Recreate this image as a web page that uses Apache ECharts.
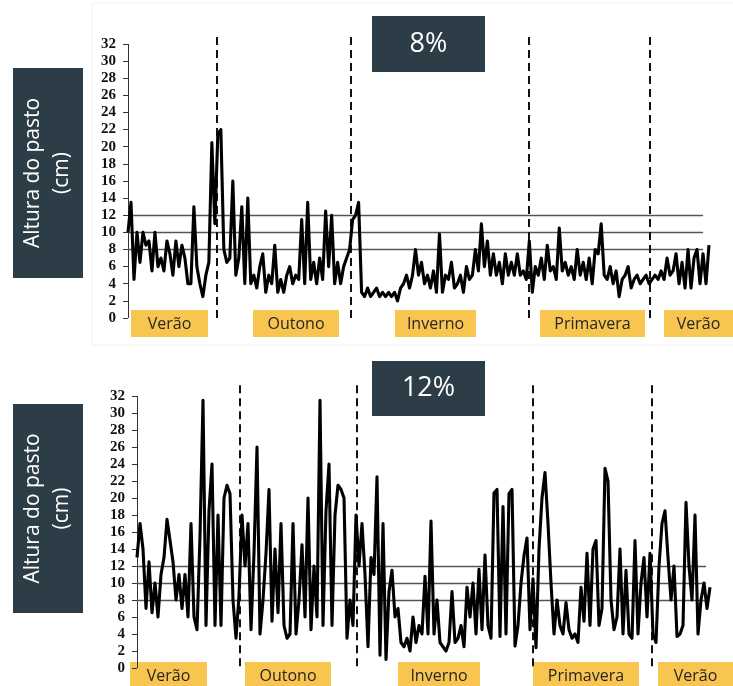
<!DOCTYPE html>
<html><head><meta charset="utf-8">
<script src="https://cdn.jsdelivr.net/npm/echarts@6/dist/echarts.min.js"></script>
<style>html,body{margin:0;padding:0;background:#fff}#c{width:733px;height:686px}</style>
</head><body><div id="c"></div>
<script>
// Pasture height (cm), 8% panel, sampled along the year
const height8 = [10,13.5,4.5,10,6.5,10,8.5,9,5.5,10, 6,7,5.5,9,7.5,5,9,6,8.5,7,
  4,4,13,6,4,2.5,5,6.5,20.5,11, 21.5,22,8,6.5,7,16,5,7,13,4,
  14,4,5,3.5,6,7.5,3,5,4,8.5, 3,4.5,3,5,6,4,5,4.5,11.5,4,
  13.5,4.5,6.5,4,7,4.5,12.5,6,12,4, 6.5,4,6,7,8,11.5,12,13.5,3,2.5,
  3.5,2.5,3,3.5,2.5,3,2.5,3,2.5,3, 2,3.5,4,5,3.5,5,8,5,6.5,4,
  5,3.5,5.5,3,9.8,3,5,4.5,6.5,3.5, 4,5,3,6,4.5,5,8,5.5,11,6,
  9,5,7.5,5,6.5,4,7.5,5,6.5,5, 7.5,5,5.5,4.5,9,3,6,5,7,4.5,
  8.5,5.5,6,4.5,10.5,5.5,6.5,5,6,4.5, 8,5,6.5,4.5,7,4,8,7.5,11,5,
  4.5,6,4,5.5,2.5,4.5,5,6,3.5,4.5, 5,4,4.5,5,4,4.5,5,4.5,5.5,4.5,
  7,5,5.5,7.5,4,6.5,3.5,8,3.5,7, 8,4,7.5,4,8.5];
// Pasture height (cm), 12% panel
const height12 = [13,17,14,7,12.5,6.5,10,6,11,13, 17.5,15,12.5,8,11,7,11,6,17,6,
  4.5,15.5,31.5,5,18.5,24,5,18,5,20, 21.5,20.5,8,3.5,8.5,18,12,17,4.5,13.5,
  26,4,8,13.5,21,5.5,14,6.5,17,5, 3.5,4,17,4,8,14.5,6,20,4.5,12,
  6,31.5,5,18.5,24,5,18,21.5,21,20, 3.5,8,5,18,12,17,11,2.5,13,11,
  22.5,1.5,17,1,9,11.5,6,7,3,2.5, 3.5,2,6,3,5,4,10.8,4,17.3,4,
  8,3,2.5,2,3,9,3,3.5,5,2.5, 9.5,6,10,4,11.6,4.5,13.3,5,3.5,20.6,
  21,3.7,19,4,20.5,21,2.6,5,10,13.2, 15.3,4.5,10.5,2.4,14,20,23,17,10,4,
  8,5,4,7.7,4.5,3.5,4,3,9.5,5.5, 13.5,5,14,15,5,7,23.5,22,8,4.5,
  6,14,4,11.5,4,3.5,15,4,10,13, 6,13.5,4,3,12,17,18.5,13,8,12,
  3.7,4,5,19.5,12,8,18,4,8,10, 7,9.5];
const seasons = ['Verão','Outono','Inverno','Primavera','Verão'];
// season changes, in sample index
const boundaries8 = [29.7, 74.5, 133.9, 174.3];
const boundaries12 = [34.3, 73.3, 132, 171.7];
const refLevels = [8, 10, 12];
const yTicks = [0,2,4,6,8,10,12,14,16,18,20,22,24,26,28,30,32];
const panelTitles = ['8%', '12%'];
const yAxisTitle = 'Altura do pasto\n(cm)';

const panels = [
  {data: height8, bounds: boundaries8, title: panelTitles[0],
   grid: {left: 128, top: 32, width: 581, height: 286}, yMax: 33.4, refEnd: 192, dashBottom: 0,
   boxes: [[131,208],[253,339],[395,476],[540,645],[664,745]], boxY: 310, boxH: 27,
   labelBox: [13, 68, 70, 210], titleBox: [372, 16, 113, 56], frame: true},
  {data: height12, bounds: boundaries12, title: panelTitles[1],
   grid: {left: 137, top: 383, width: 573, height: 285}, yMax: 33.53, refEnd: 189.7, dashBottom: 0.2,
   boxes: [[130,207],[245,331],[398,480],[533,639],[658,745]], boxY: 662, boxH: 27,
   labelBox: [13, 404, 70, 209], titleBox: [372, 361, 113, 55], frame: false}
];

const DARK = '#2c3d48', YEL = '#F8C550';
const grids = [], xAxes = [], yAxes = [], series = [], graphics = [];

panels.forEach((p, k) => {
  if (p.frame) graphics.push({type: 'rect', z: -10, shape: {x: 92, y: 3, width: 660, height: 342},
    style: {fill: 'none', stroke: '#f1f1f1', lineWidth: 1}});
  grids.push(Object.assign({}, p.grid));
  xAxes.push({type: 'value', gridIndex: k, min: 0, max: p.data.length - 1, show: false});
  yAxes.push({type: 'value', gridIndex: k, min: 0, max: p.yMax,
    axisLine: {show: false},
    axisTick: {show: true, length: 5, customValues: yTicks, lineStyle: {color: '#333'}},
    axisLabel: {fontFamily: 'Liberation Serif', fontSize: 15, fontWeight: 'bold', color: '#111', margin: 12, customValues: yTicks},
    splitLine: {show: false}});
  const ml = [];
  ml.push([{coord: [0, 0], lineStyle: {color: '#333', width: 1, type: 'solid'}}, {coord: [0, 32]}]);
  refLevels.forEach(v => ml.push([{coord: [0, v], lineStyle: {color: '#555', width: 1.4, type: 'solid'}}, {coord: [p.refEnd, v]}]));
  p.bounds.forEach(b => ml.push([{coord: [b, p.dashBottom], lineStyle: {color: '#111', width: 2, type: [8, 5]}}, {coord: [b, p.yMax]}]));
  series.push({type: 'line', xAxisIndex: k, yAxisIndex: k, z: 3, animation: false,
    data: p.data.map((v, i) => [i, v]), showSymbol: false, symbol: 'none',
    lineStyle: {color: '#000', width: 3.1, join: 'round'},
    markLine: {silent: true, z: 1, symbol: ['none', 'none'], label: {show: false}, animation: false, data: ml}});
  // season boxes
  p.boxes.forEach((bx, j) => {
    graphics.push({type: 'rect', shape: {x: bx[0], y: p.boxY, width: bx[1] - bx[0], height: p.boxH}, style: {fill: YEL}});
    const cx = j === 4 ? (bx[0] + 733) / 2 : (bx[0] + bx[1]) / 2;
    graphics.push({type: 'text', x: cx, y: p.boxY + p.boxH / 2 + 1,
      style: {text: seasons[j], fill: '#262626', font: '16px "Open Sans"', align: 'center', verticalAlign: 'middle', textAlign: 'center', textVerticalAlign: 'middle'}});
  });
  const lb = p.labelBox;
  graphics.push({type: 'rect', shape: {x: lb[0], y: lb[1], width: lb[2], height: lb[3]}, style: {fill: DARK}});
  graphics.push({type: 'text', x: lb[0] + lb[2] / 2, y: lb[1] + lb[3] / 2, rotation: Math.PI / 2,
    style: {text: yAxisTitle, fill: '#fff', font: '21px "Open Sans"', lineHeight: 29, align: 'center', verticalAlign: 'middle', textAlign: 'center', textVerticalAlign: 'middle'}});
  const tb = p.titleBox;
  graphics.push({type: 'rect', shape: {x: tb[0], y: tb[1], width: tb[2], height: tb[3]}, style: {fill: DARK}});
  graphics.push({type: 'text', x: tb[0] + tb[2] / 2, y: tb[1] + tb[3] / 2,
    style: {text: p.title, fill: '#fff', font: '27px "Open Sans"', align: 'center', verticalAlign: 'middle', textAlign: 'center', textVerticalAlign: 'middle'}});
});

const chart = echarts.init(document.getElementById('c'), null, {renderer: 'canvas'});
chart.setOption({animation: false, backgroundColor: '#fff', grid: grids, xAxis: xAxes, yAxis: yAxes, series: series, graphic: graphics});
</script></body></html>
